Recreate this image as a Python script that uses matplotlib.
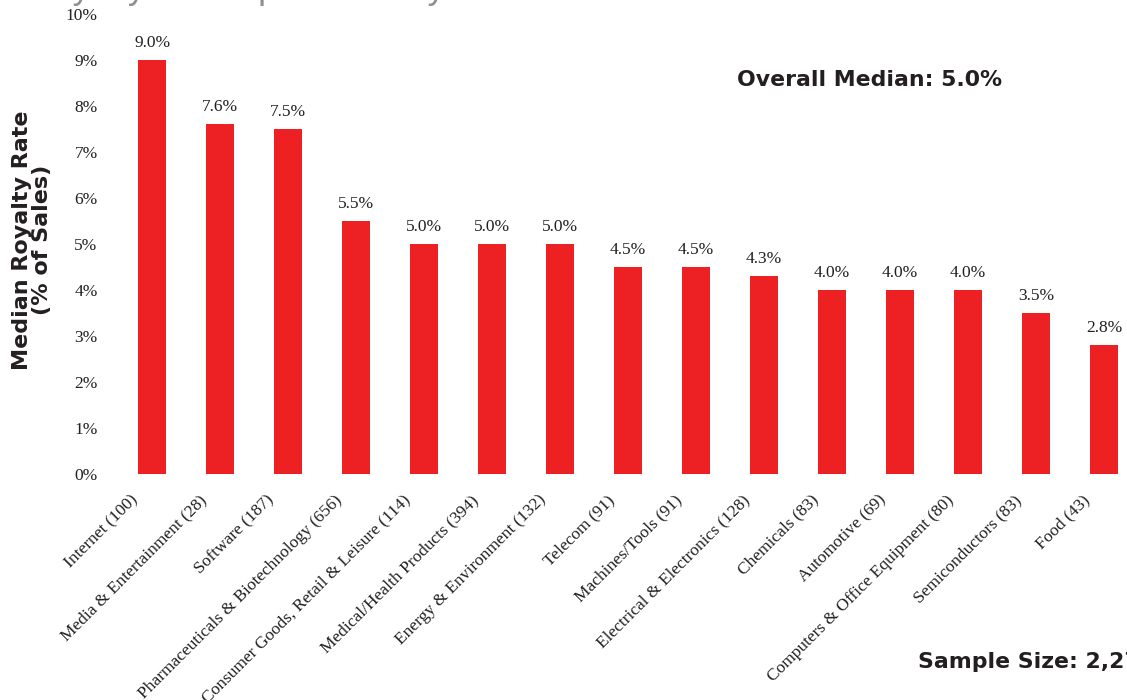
""" Median royalty rate by industry bar chart """

import matplotlib.pyplot as plt
from matplotlib.ticker import FuncFormatter
from matplotlib.transforms import ScaledTranslation

industries = ["Internet (100)", "Media & Entertainment (28)", "Software (187)",
              "Pharmaceuticals & Biotechnology (656)", "Consumer Goods, Retail & Leisure (114)",
              "Medical/Health Products (394)", "Energy & Environment (132)", "Telecom (91)",
              "Machines/Tools (91)", "Electrical & Electronics (128)", "Chemicals (83)",
              "Automotive (69)", "Computers & Office Equipment (80)", "Semiconductors (83)",
              "Food (43)"]
median_rate = [9.0, 7.6, 7.5, 5.5, 5.0, 5.0, 5.0, 4.5, 4.5, 4.3, 4.0, 4.0, 4.0, 3.5, 2.8]
overall_median = 5.0
sample_size = "2,279"

bar_red = "#ed2024"
ink = "#231f20"
serif = ["Liberation Serif", "DejaVu Serif"]
heavy = ["DejaVu Sans"]

fig = plt.figure(figsize=(11.27, 7), dpi=100)
ax = fig.add_axes([106 / 1127, 226 / 700, 1 - 106 / 1127, 460 / 700])

x = range(len(median_rate))
ax.bar(x, median_rate, width=0.41, color=bar_red)

# value labels on top of each bar
for i, v in zip(x, median_rate):
    ax.text(i, v + 0.2, "{:.1f}%".format(v), ha="center", va="bottom",
            fontsize=12.5, family=serif, color=ink)

ax.set_ylim(0, 10)
ax.set_xlim(-0.68, 14.34)
ax.set_yticks(range(0, 11))
ax.yaxis.set_major_formatter(FuncFormatter(lambda v, p: "{:.0f}%".format(v)))
ax.set_xticks(list(x))
ax.set_xticklabels([])

# slanted category labels, ending just left of and below each bar
label_pos = ax.get_xaxis_transform() + ScaledTranslation(-22 / 100, -18 / 100, fig.dpi_scale_trans)
for i, name in zip(x, industries):
    ax.text(i, 0, name, transform=label_pos, rotation=45, ha="right", va="top",
            rotation_mode="anchor", fontsize=12.5, family=serif, color=ink)

for tl in ax.get_yticklabels():
    tl.set_family(serif)
    tl.set_fontsize(12.5)
    tl.set_color(ink)
ax.tick_params(length=0, axis="y", pad=6)
ax.tick_params(length=0, axis="x")
for s in ["top", "bottom", "left", "right"]:
    ax.spines[s].set_visible(False)

fig.text(32 / 1127, 0.657, "Median Royalty Rate\n(% of Sales)", rotation=90,
         ha="center", va="center", fontsize=16, fontweight="bold",
         family=heavy, color=ink, linespacing=1.0)

fig.text(737 / 1127, 1 - 80 / 700, "Overall Median: {:.1f}%".format(overall_median),
         ha="left", va="center", fontsize=15.8, fontweight="bold", family=heavy,
         color=ink)
fig.text(918 / 1127, 1 - 662 / 700, "Sample Size: " + sample_size,
         ha="left", va="center", fontsize=15.8, fontweight="bold", family=heavy,
         color=ink)

# slide title sitting just above the top edge
fig.text(-99 / 1127, 1 + 2 / 700, "Median Royalty Rates per Industry", ha="left", va="baseline",
         fontsize=25.6, family=["Liberation Sans", "DejaVu Sans"], color="#8d8f92")

plt.savefig("out.png", dpi=100)
